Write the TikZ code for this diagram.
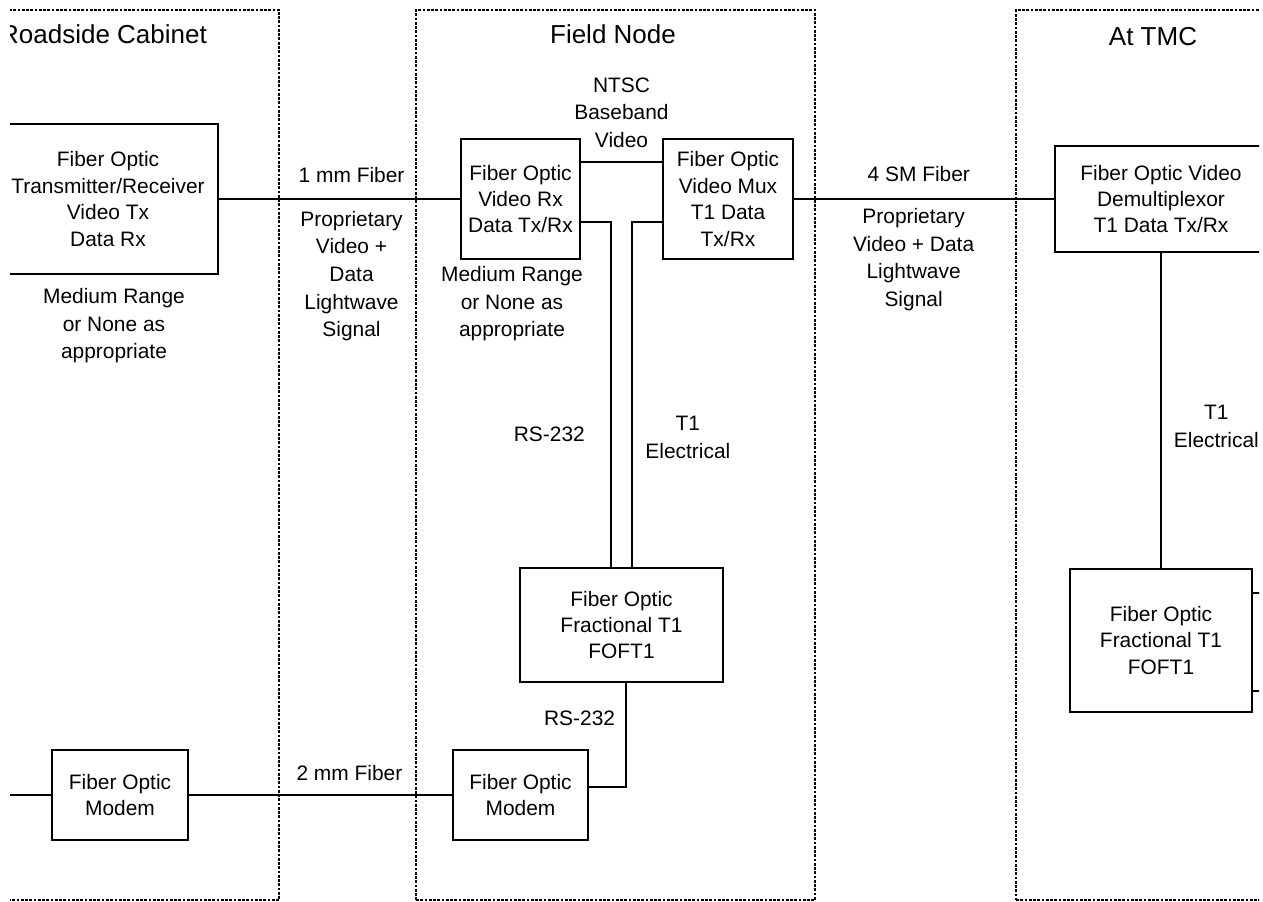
\documentclass[tikz,border=0pt]{standalone}
\usepackage{fontspec}
\setmainfont{Liberation Sans}
\usetikzlibrary{positioning,calc}

\begin{document}
\begin{tikzpicture}[
    x=0.2mm, y=-0.2mm,
    font=\fontsize{11.9}{15}\selectfont,
    zone/.style={
      draw=black,
      line width=.8pt,
      dash pattern=on .55mm off .3mm,
      minimum height=178mm
    },
    unit/.style={draw=black, line width=1.1pt, align=center, inner sep=2pt},
    link/.style={draw=black, line width=1.1pt},
    lab/.style={align=center, inner sep=1pt, font=\fontsize{11.9}{15.7}\selectfont},
    title/.style={font=\fontsize{14.8}{18}\selectfont, anchor=base}
  ]
    \useasboundingbox (0,0) rectangle (1263,902);
    \clip (10,0) rectangle (1259,902);

    % zones
    \node[zone, minimum width=61.8mm] (cabinet) at (124.5,455) {};
    \node[zone, minimum width=79.8mm] (field) at (615.5,455) {};
    \node[zone, minimum width=56.8mm] (tmc) at (1158,455) {};

    \node[title] (cabinettitle) at (103.5,44) {Roadside Cabinet};
    \node[title] (fieldtitle) at (613,44) {Field Node};
    \node[title] (tmctitle) at (1153,46) {At TMC};

    % units
    \node[unit, minimum width=44mm, minimum height=30mm] (txrx) at (108,199) {
      Fiber Optic\\
      Transmitter/Receiver\\
      Video Tx\\
      Data Rx
    };

    \node[unit, minimum width=23.8mm, minimum height=24mm] (videorx) at (520.5,199) {
      Fiber Optic\\
      Video Rx\\
      Data Tx/Rx
    };

    \node[unit, minimum width=26mm, minimum height=24mm] (videomux) at (728,199) {
      Fiber Optic\\
      Video Mux\\
      T1 Data\\
      Tx/Rx
    };

    \node[unit, minimum width=42.4mm, minimum height=21.2mm] (demux) at (1161,199) {
      Fiber Optic Video\\
      Demultiplexor\\
      T1 Data Tx/Rx
    };

    \node[unit, minimum width=40.6mm, minimum height=22.8mm] (foftfield) at (621.5,625) {
      Fiber Optic\\
      Fractional T1\\
      FOFT1
    };

    \node[unit, minimum width=36.4mm, minimum height=28.6mm] (fofttmc) at (1161,640.5) {
      Fiber Optic\\
      Fractional T1\\
      FOFT1
    };

    \node[unit, minimum width=27.2mm, minimum height=18mm] (modemroad) at (120,795) {
      Fiber Optic\\
      Modem
    };

    \node[unit, minimum width=27mm, minimum height=18mm] (modemfield) at (520.5,795) {
      Fiber Optic\\
      Modem
    };

    % range notes
    \node[lab] (rangeroad) at (114,326) {Medium Range\\or None as\\appropriate};
    \node[lab] (rangefield) at (512,304) {Medium Range\\or None as\\appropriate};

    % links
    \draw[link] (txrx.east) -- node[pos=.55, above=2.8mm, lab] {1 mm Fiber}
      node[pos=.55, below=1.9mm, lab] {Proprietary\\Video +\\Data\\Lightwave\\Signal} (videorx.west);
    \draw[link] ([yshift=7.4mm]videorx.east) -- node[above=2.35mm, lab] {NTSC\\Baseband\\Video} ([yshift=7.4mm]videomux.west);
    \draw[link] (videomux.east) -- node[pos=.48, above=3mm, lab] {4 SM Fiber}
      node[pos=.46, below=1.35mm, lab] {Proprietary\\Video + Data\\Lightwave\\Signal} (demux.west);
    \draw[link] ([yshift=-4.6mm]videorx.east) -| node[pos=.808, left=4.7mm, lab] {RS-232} ([xshift=-2.1mm]foftfield.north);
    \draw[link] ([yshift=-4.6mm]videomux.west) -| node[pos=.812, right=2.15mm, lab] {T1\\Electrical} ([xshift=2.1mm]foftfield.north);
    \draw[link] (demux.south) -- node[pos=.55, right=2.05mm, lab] {T1\\Electrical} (fofttmc.north);
    \draw[link] ([xshift=.9mm]foftfield.south) |- node[pos=.171, left=1.65mm, lab] {RS-232} ([yshift=1.6mm]modemfield.east);
    \draw[link] (modemroad.east) -- node[pos=.61, above=2.25mm, lab] {2 mm Fiber} (modemfield.west);

    \coordinate (roadstub) at (-20,795);
    \draw[link] (roadstub) -- (modemroad.west);
    \coordinate (tmcstuba) at (1290,593);
    \coordinate (tmcstubb) at (1290,691);
    \draw[link] (tmcstuba -| fofttmc.east) -- (tmcstuba);
    \draw[link] (tmcstubb -| fofttmc.east) -- (tmcstubb);
  \end{tikzpicture}
\end{document}
